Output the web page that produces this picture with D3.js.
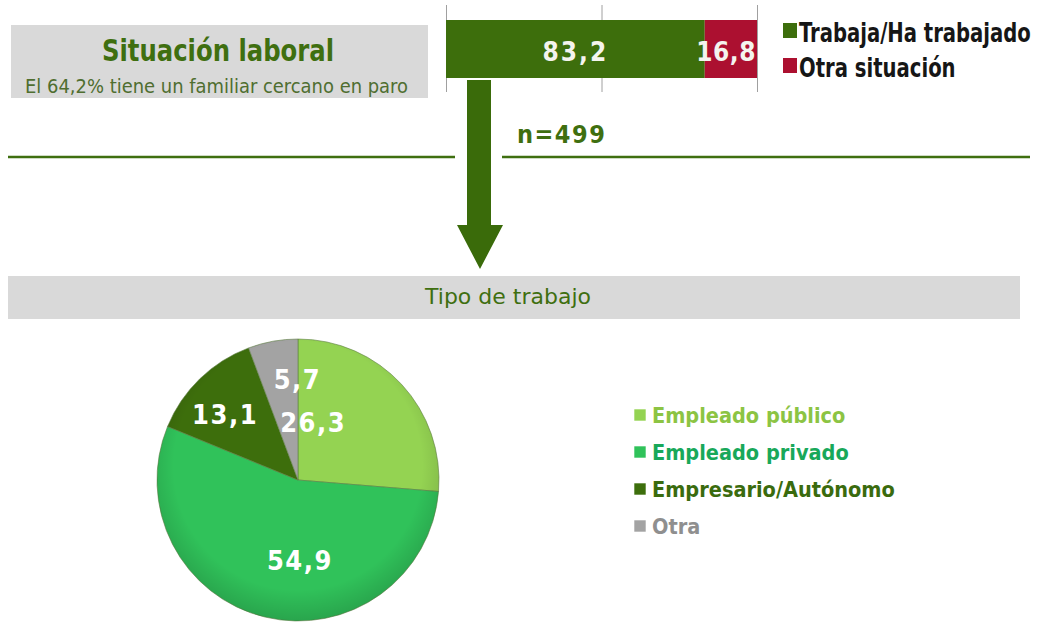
<!DOCTYPE html>
<html>
<head>
<meta charset="utf-8">
<script src="https://cdn.jsdelivr.net/npm/d3@7"></script>
<style>
  body { margin: 0; background: #fff; }
  svg { display: block; }
</style>
</head>
<body>
<div id="chart"></div>
<script>
// Situacion laboral (stacked bar)
const barCats = ["Trabaja/Ha trabajado", "Otra situación"];
const barVals = [83.2, 16.8];
const barColors = ["#3d6e0c", "#ac1030"];
const barTicks = [0, 50, 100];

// Tipo de trabajo (pie)
const pieCats = ["Empleado público", "Empleado privado", "Empresario/Autónomo", "Otra"];
const pieVals = [26.3, 54.9, 13.1, 5.7];
const pieColors = ["#94d352", "#30c25a", "#3d6e0c", "#a3a3a3"];
const pieTextColors = ["#8cc443", "#18a85a", "#3a6b0e", "#8f8f8f"];

const fmt = v => String(v).replace(".", ",");
const dark = "#3f6f10";
const cond = "DejaVu Sans Condensed, DejaVu Sans, sans-serif";

const svg = d3.select("#chart").append("svg")
  .attr("width", 1041)
  .attr("height", 625);

// title box
svg.append("rect")
  .attr("x", 11).attr("y", 25).attr("width", 417).attr("height", 73)
  .attr("fill", "#d9d9d9");
svg.append("text")
  .attr("x", 102).attr("y", 61)
  .attr("textLength", 232).attr("lengthAdjust", "spacingAndGlyphs")
  .style("font-family", cond)
  .style("font-size", "30px").style("font-weight", "bold")
  .attr("fill", dark)
  .text("Situación laboral");
svg.append("text")
  .attr("x", 25).attr("y", 93)
  .attr("textLength", 383).attr("lengthAdjust", "spacingAndGlyphs")
  .style("font-family", cond)
  .style("font-size", "19px")
  .attr("fill", "#4f6e30")
  .text("El 64,2% tiene un familiar cercano en paro");

// stacked bar
const x = d3.scaleLinear().domain([0, 100]).range([446, 757]);

svg.append("g")
  .attr("transform", "translate(0,92)")
  .call(d3.axisBottom(x).tickValues(barTicks).tickSize(-87).tickFormat(""))
  .call(g => g.select(".domain").remove())
  .call(g => g.selectAll("line").attr("stroke", "#a0a0a0"));

let acc = 0;
const stack = barVals.map((v, i) => {
  const d = { v, i, x0: acc, x1: acc + v };
  acc += v;
  return d;
});

svg.selectAll("rect.seg")
  .data(stack)
  .enter().append("rect")
  .attr("class", "seg")
  .attr("x", d => x(d.x0))
  .attr("y", 20)
  .attr("width", d => x(d.x1) - x(d.x0))
  .attr("height", 58)
  .attr("fill", d => barColors[d.i]);

svg.selectAll("text.seg")
  .data(stack)
  .enter().append("text")
  .attr("class", "seg")
  .attr("x", d => d.i === 0 ? (x(d.x0) + x(d.x1)) / 2 : x(d.x1) - 1)
  .attr("y", 61)
  .attr("text-anchor", d => d.i === 0 ? "middle" : "end")
  .style("font-family", cond)
  .style("font-size", "26px").style("font-weight", "bold")
  .style("letter-spacing", d => d.i === 0 ? "2px" : "0.5px")
  .attr("fill", "#f4f4ee")
  .text(d => fmt(d.v));

// bar legend (squeezed horizontally to fit the space right of the bar)
const barLeg = svg.selectAll("g.bleg")
  .data(barCats)
  .enter().append("g")
  .attr("class", "bleg")
  .attr("transform", (d, i) => `translate(783, ${42 + i * 35})`);
barLeg.append("rect")
  .attr("x", 0).attr("y", -19).attr("width", 14).attr("height", 15)
  .attr("fill", (d, i) => barColors[i]);
const legTexts = barLeg.append("text")
  .style("font-family", cond)
  .style("font-size", "27px").style("font-weight", "bold")
  .attr("fill", "#161616")
  .text(d => d);
const widths = legTexts.nodes().map(n => n.getComputedTextLength());
const squeeze = Math.min(1, (1031 - 799) / d3.max(widths));
legTexts.attr("transform", `translate(16,0) scale(${squeeze},1)`);

// separator lines, n and arrow
svg.append("line")
  .attr("x1", 8).attr("x2", 455).attr("y1", 157).attr("y2", 157)
  .attr("stroke", dark).attr("stroke-width", 2.5);
svg.append("line")
  .attr("x1", 502).attr("x2", 1030).attr("y1", 157).attr("y2", 157)
  .attr("stroke", dark).attr("stroke-width", 2.5);
svg.append("text")
  .attr("x", 517).attr("y", 143)
  .style("font-family", cond)
  .style("font-size", "25px").style("font-weight", "bold")
  .style("letter-spacing", "1.5px")
  .attr("fill", dark)
  .text("n=499");
svg.append("path")
  .attr("d", "M467,80 L491,80 L491,225 L503,225 L480,269 L457,225 L467,225 Z")
  .attr("fill", "#3a6b0a");

// Tipo de trabajo box
svg.append("rect")
  .attr("x", 8).attr("y", 276).attr("width", 1012).attr("height", 43)
  .attr("fill", "#d9d9d9");
svg.append("text")
  .attr("x", 508).attr("y", 304)
  .attr("text-anchor", "middle")
  .style("font-family", "DejaVu Sans, sans-serif")
  .style("font-size", "22px")
  .attr("fill", dark)
  .text("Tipo de trabajo");

// pie
const cx = 298, cy = 480, R = 141;
const pie = d3.pie().sort(null).value(d => d)(pieVals);
const arc = d3.arc().innerRadius(0).outerRadius(R);
const pieG = svg.append("g").attr("transform", `translate(${cx},${cy})`);

const grad = svg.append("defs").append("radialGradient")
  .attr("id", "shade").attr("cx", "50%").attr("cy", "45%").attr("r", "55%");
grad.append("stop").attr("offset", "80%").attr("stop-color", "#000").attr("stop-opacity", 0);
grad.append("stop").attr("offset", "100%").attr("stop-color", "#000").attr("stop-opacity", 0.15);

pieG.selectAll("path.slice")
  .data(pie)
  .enter().append("path")
  .attr("class", "slice")
  .attr("d", arc)
  .attr("fill", (d, i) => pieColors[i])
  .attr("stroke", "#5f7f45").attr("stroke-width", 0.6);
pieG.append("circle")
  .attr("r", R).attr("fill", "url(#shade)");

// labels: centroid of each slice, nudged like the original layout
const labelArc = d3.arc().innerRadius(0).outerRadius(R * 1.16);
const nudge = [[-45, -2], [21, 1], [-16, -7], [14, -20]];
pieG.selectAll("text.pl")
  .data(pie)
  .enter().append("text")
  .attr("class", "pl")
  .attr("transform", (d, i) => {
    const c = labelArc.centroid(d);
    return `translate(${c[0] + nudge[i][0]},${c[1] + nudge[i][1]})`;
  })
  .attr("text-anchor", "middle")
  .attr("dy", "0.36em")
  .style("font-family", cond)
  .style("font-size", "27px").style("font-weight", "bold")
  .style("letter-spacing", "1.5px")
  .attr("fill", "#fff")
  .text(d => fmt(d.data));

// pie legend
const pieLeg = svg.selectAll("g.pleg")
  .data(pieCats)
  .enter().append("g")
  .attr("class", "pleg")
  .attr("transform", (d, i) => `translate(634, ${423 + i * 37})`);
pieLeg.append("rect")
  .attr("x", 0).attr("y", -14).attr("width", 12).attr("height", 12)
  .attr("fill", (d, i) => pieColors[i])
  .attr("stroke", "#fff").attr("stroke-width", 0.6);
pieLeg.append("text")
  .attr("x", 18).attr("y", 0)
  .style("font-family", cond)
  .style("font-size", "21.5px").style("font-weight", "bold")
  .attr("fill", (d, i) => pieTextColors[i])
  .text(d => d);
</script>
</body>
</html>
